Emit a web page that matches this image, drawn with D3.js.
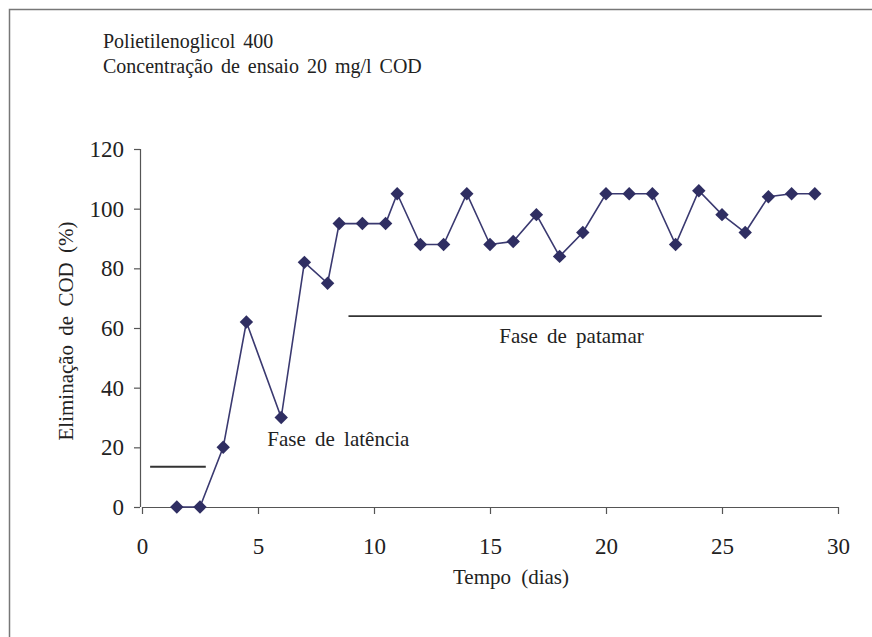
<!DOCTYPE html>
<html><head><meta charset="utf-8">
<script src="https://cdn.jsdelivr.net/npm/d3@7"></script>
<style>body{margin:0;background:#fff}svg{display:block}</style>
</head><body>
<script>
const days = [1.5,2.5,3.5,4.5,6,7,8,8.5,9.5,10.5,11,12,13,14,15,16,17,18,19,20,21,22,23,24,25,26,27,28,29];
const removal = [0,0,20,62,30,82,75,95,95,95,105,88,88,105,88,89,98,84,92,105,105,105,88,106,98,92,104,105,105];
const xTicks = [0,5,10,15,20,25,30];
const yTicks = [0,20,40,60,80,100,120];
const titleLines = ["Polietilenoglicol 400","Concentração de ensaio 20 mg/l COD"];
const lagPhase = {label:"Fase de latência", x0:0.35, x1:2.75, y:13.5, lx:5.4, ly:20.5};
const plateauPhase = {label:"Fase de patamar", x0:8.9, x1:29.3, y:64, lx:15.4, ly:55};
const FONT = "'Liberation Serif', 'Times New Roman', serif";

const W=872,H=637;
const svg=d3.select("body").append("svg").attr("width",W).attr("height",H);
svg.append("path").attr("d","M9.5,"+H+" V9.5 H"+W).attr("fill","none").attr("stroke","#777").attr("stroke-width",1.5);

const x=d3.scaleLinear().domain([0,30]).range([142,838]);
const y=d3.scaleLinear().domain([0,120]).range([507,149]);

function txt(sel,size,ws,ls){return sel.style("font-family",FONT).style("font-size",size+"px")
 .style("word-spacing",(ws||0)+"px").style("letter-spacing",(ls||0)+"px").attr("fill","#222");}

txt(svg.selectAll("text.title").data(titleLines).enter().append("text")
 .attr("x",103).attr("y",(d,i)=>48+i*25),20,3,0).text(d=>d);

const ax=svg.append("g").attr("transform","translate(0,507)")
 .call(d3.axisBottom(x).tickValues(xTicks).tickSize(7).tickPadding(24).tickFormat(d3.format("d")));
const ay=svg.append("g").attr("transform","translate(140,0)")
 .call(d3.axisLeft(y).tickValues(yTicks).tickSize(6).tickPadding(10).tickFormat(d3.format("d")));
ax.select(".domain").attr("d","M142,0.5H838.5");
[ax,ay].forEach(g=>{g.selectAll("path,line").attr("stroke","#555").attr("stroke-width",1.2);
 txt(g.selectAll("text"),23,0,0);});
ay.select(".domain").attr("d","M0.5,149V507");

txt(svg.append("text").attr("x",511).attr("y",584).attr("text-anchor","middle"),21,5,0).text("Tempo (dias)");
txt(svg.append("text").attr("transform","translate(73,331) rotate(-90)").attr("text-anchor","middle"),21,4,0).text("Eliminação de COD (%)");

[lagPhase,plateauPhase].forEach(p=>{
 svg.append("line").attr("x1",x(p.x0)).attr("x2",x(p.x1)).attr("y1",y(p.y)).attr("y2",y(p.y)).attr("stroke","#333").attr("stroke-width",1.8);
 txt(svg.append("text").attr("x",x(p.lx)).attr("y",y(p.ly)),21,4,0).text(p.label);
});

const pts=days.map((d,i)=>[d,removal[i]]);
svg.append("path").datum(pts).attr("fill","none").attr("stroke","#3a3970").attr("stroke-width",1.6)
 .attr("d",d3.line().x(d=>x(d[0])).y(d=>y(d[1])));
svg.selectAll("path.m").data(pts).enter().append("path").attr("class","m")
 .attr("transform",d=>`translate(${x(d[0])},${y(d[1])})`)
 .attr("d",d3.symbol(d3.symbolDiamond2,115)).attr("fill","#2f2e62");
</script>
</body></html>
